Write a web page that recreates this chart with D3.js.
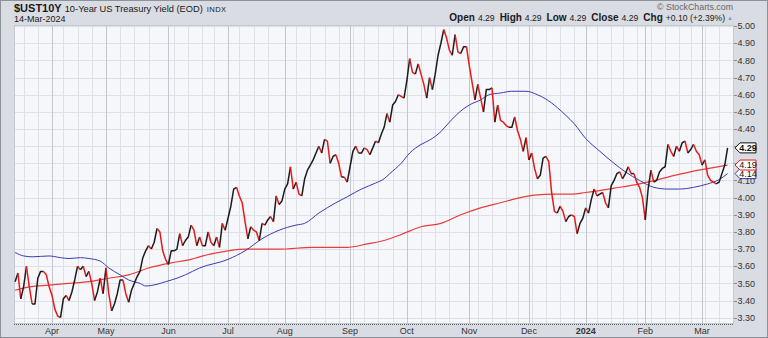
<!DOCTYPE html>
<html>
<head>
<meta charset="utf-8">
<script src="https://cdn.jsdelivr.net/npm/d3@7"></script>
<style>
  html, body { margin: 0; padding: 0; background: #ffffff; }
  svg { display: block; font-family: "Liberation Sans", Arial, Helvetica, sans-serif; }
</style>
</head>
<body>
<svg id="chart" width="768" height="338"></svg>
<script>
// ---- Data: 10-Year US Treasury Yield, daily closes ----
const firstDay = "2023-03-15";
const lastDay = "2024-03-14";
const marketHolidays = ["2023-04-07", "2023-05-29", "2023-06-19", "2023-07-04", "2023-09-04",
  "2023-11-23", "2023-12-25", "2024-01-01", "2024-01-15", "2024-02-19"];

const closesMar23 = [3.51, 3.56, 3.41, 3.48, 3.60, 3.48, 3.38, 3.38, 3.53, 3.57, 3.57, 3.55, 3.48];
const closesApr23 = [3.43, 3.35, 3.31, 3.30, 3.41, 3.43, 3.40, 3.45, 3.52, 3.60, 3.58, 3.60, 3.54, 3.57, 3.50, 3.40, 3.45, 3.53, 3.44];
const closesMay23 = [3.59, 3.44, 3.34, 3.38, 3.44, 3.52, 3.52, 3.44, 3.39, 3.46, 3.50, 3.54, 3.57, 3.65, 3.69, 3.72, 3.70, 3.74, 3.82, 3.80, 3.69, 3.64];
const closesJun23 = [3.61, 3.69, 3.69, 3.70, 3.79, 3.72, 3.75, 3.77, 3.84, 3.81, 3.72, 3.77, 3.72, 3.72, 3.80, 3.74, 3.72, 3.77, 3.71, 3.85, 3.81];
const closesJul23 = [3.88, 3.95, 4.05, 4.06, 4.01, 3.97, 3.86, 3.76, 3.83, 3.81, 3.80, 3.75, 3.85, 3.84, 3.87, 3.89, 3.86, 4.01, 3.96, 3.98];
const closesAug23 = [4.05, 4.08, 4.18, 4.05, 4.09, 4.02, 4.01, 4.11, 4.16, 4.19, 4.22, 4.26, 4.30, 4.26, 4.34, 4.33, 4.20, 4.24, 4.25, 4.20, 4.12, 4.12, 4.09];
const closesSep23 = [4.18, 4.27, 4.30, 4.26, 4.26, 4.29, 4.28, 4.25, 4.29, 4.33, 4.32, 4.37, 4.41, 4.49, 4.44, 4.54, 4.56, 4.60, 4.59, 4.58];
const closesOct23 = [4.68, 4.81, 4.73, 4.72, 4.78, 4.72, 4.66, 4.58, 4.70, 4.63, 4.72, 4.83, 4.90, 4.98, 4.93, 4.86, 4.83, 4.95, 4.85, 4.84, 4.88, 4.88];
const closesNov23 = [4.77, 4.67, 4.57, 4.66, 4.58, 4.50, 4.63, 4.63, 4.64, 4.44, 4.54, 4.45, 4.44, 4.42, 4.41, 4.41, 4.47, 4.39, 4.34, 4.27, 4.35];
const closesDec23 = [4.22, 4.26, 4.17, 4.11, 4.13, 4.23, 4.24, 4.21, 4.03, 3.92, 3.91, 3.95, 3.92, 3.86, 3.89, 3.90, 3.89, 3.79, 3.85, 3.88];
const closesJan24 = [3.94, 3.91, 3.99, 4.05, 4.01, 4.02, 4.03, 3.97, 3.94, 4.07, 4.10, 4.14, 4.15, 4.11, 4.14, 4.18, 4.14, 4.14, 4.09, 4.06, 4.00];
const closesFeb24 = [3.87, 4.05, 4.16, 4.09, 4.10, 4.15, 4.17, 4.18, 4.31, 4.27, 4.24, 4.30, 4.27, 4.32, 4.33, 4.26, 4.28, 4.31, 4.27, 4.25];
const closesMar24 = [4.19, 4.22, 4.13, 4.10, 4.09, 4.08, 4.09, 4.14, 4.19, 4.29];

// 50-day simple moving average (trading-day index, value)
const sma50At = [0, 3, 6, 12, 16, 19, 23, 26, 30, 33, 37, 40, 44, 46, 50, 53, 57, 60, 65, 75, 81, 87, 93, 99, 102,
  107, 113, 117, 122, 127, 130, 132, 136, 139, 143, 146, 150, 153, 157, 160, 164, 167, 171, 175, 180, 184, 187,
  191, 194, 197, 201, 206, 211, 215, 220, 225, 230, 234, 239, 244, 248, 251];
const sma50 = [3.68, 3.66, 3.655, 3.66, 3.65, 3.645, 3.65, 3.645, 3.63, 3.59, 3.55, 3.52, 3.50, 3.485, 3.495, 3.51,
  3.53, 3.55, 3.59, 3.64, 3.69, 3.76, 3.81, 3.84, 3.85, 3.91, 3.97, 4.005, 4.05, 4.085, 4.11, 4.14, 4.20, 4.26,
  4.31, 4.335, 4.385, 4.44, 4.505, 4.54, 4.57, 4.60, 4.61, 4.62, 4.62, 4.60, 4.575, 4.525, 4.48, 4.43, 4.345,
  4.27, 4.20, 4.15, 4.10, 4.06, 4.05, 4.05, 4.06, 4.08, 4.105, 4.14];

// 200-day simple moving average (trading-day index, value)
const sma200At = [0, 5, 12, 19, 26, 33, 40, 47, 55, 62, 65, 75, 81, 93, 105, 117, 124, 130, 136, 143, 150, 157,
  164, 171, 178, 183, 190, 196, 201, 211, 220, 230, 239, 246, 251];
const sma200 = [3.46, 3.48, 3.49, 3.50, 3.51, 3.53, 3.55, 3.59, 3.62, 3.64, 3.655, 3.69, 3.70, 3.70, 3.71, 3.71,
  3.73, 3.75, 3.785, 3.83, 3.85, 3.90, 3.94, 3.97, 4.00, 4.015, 4.02, 4.02, 4.03, 4.055, 4.08, 4.12, 4.155,
  4.175, 4.19];

const yTicks = [3.30, 3.40, 3.50, 3.60, 3.70, 3.80, 3.90, 4.00, 4.10, 4.20, 4.30, 4.40, 4.50, 4.60, 4.70, 4.80, 4.90, 5.00];
const monthLabels = ["Apr", "May", "Jun", "Jul", "Aug", "Sep", "Oct", "Nov", "Dec", "2024", "Feb", "Mar"];

const quoteFields = ["Open", "High", "Low", "Close", "Chg"];
const quoteValues = ["4.29", "4.29", "4.29", "4.29", "+0.10 (+2.39%)"];
const lastTags = [
  { value: 4.14, color: "#3434b4", bold: false },
  { value: 4.19, color: "#e01818", bold: false },
  { value: 4.29, color: "#111111", bold: true }
];

// ---- Layout ----
const W = 768, H = 338;
const plot = { left: 14, right: 734, top: 25, bottom: 324 };

const closes = [].concat(closesMar23, closesApr23, closesMay23, closesJun23, closesJul23, closesAug23,
  closesSep23, closesOct23, closesNov23, closesDec23, closesJan24, closesFeb24, closesMar24);

const fmt = d3.utcFormat("%Y-%m-%d");
const days = d3.utcDay.range(new Date(firstDay + "T00:00:00Z"), d3.utcDay.offset(new Date(lastDay + "T00:00:00Z"), 1))
  .filter(d => d.getUTCDay() % 6 !== 0 && !marketHolidays.includes(fmt(d)));

const x = d3.scaleLinear().domain([0, closes.length - 1]).range([15.1, 727.6]);
const y = d3.scaleLinear().domain([3.30, 5.00]).range([317.7, 26.1]);

const svg = d3.select("#chart");

// outer panel
svg.append("rect").attr("x", 0.5).attr("y", 0.5).attr("width", W - 1).attr("height", H - 1)
  .attr("fill", "#d9dce2").attr("stroke", "#8e929a");

// plot background
svg.append("rect").attr("x", plot.left).attr("y", plot.top)
  .attr("width", plot.right - plot.left).attr("height", plot.bottom - plot.top)
  .attr("fill", "#f6f7fa");

// month starts and week starts
const monthStarts = [];
const weekStarts = [];
days.forEach((d, i) => {
  if (i === 0) return;
  const p = days[i - 1];
  if (d.getUTCMonth() !== p.getUTCMonth()) monthStarts.push(i);
  if (d.getUTCDay() < p.getUTCDay() || (d - p) > 3 * 864e5) weekStarts.push(i);
});
const weekLines = weekStarts.filter(i => !monthStarts.some(m => m - i >= 0 && m - i <= 2));

const grid = svg.append("g");
grid.selectAll(".hg").data(yTicks).join("line")
  .attr("x1", plot.left).attr("x2", plot.right)
  .attr("y1", d => Math.round(y(d)) + 0.5).attr("y2", d => Math.round(y(d)) + 0.5)
  .attr("stroke", "#dde0e6");
grid.selectAll(".wg").data(weekLines).join("line")
  .attr("x1", d => Math.round(x(d)) + 0.5).attr("x2", d => Math.round(x(d)) + 0.5)
  .attr("y1", plot.top).attr("y2", plot.bottom)
  .attr("stroke", "#dde0e6");
grid.selectAll(".mg").data(monthStarts).join("line")
  .attr("x1", d => Math.round(x(d)) + 0.5).attr("x2", d => Math.round(x(d)) + 0.5)
  .attr("y1", plot.top).attr("y2", plot.bottom)
  .attr("stroke", "#c3c7cf");

// plot frame
svg.append("rect").attr("x", plot.left + 0.5).attr("y", plot.top + 0.5)
  .attr("width", plot.right - plot.left - 1).attr("height", plot.bottom - plot.top - 1)
  .attr("fill", "none").attr("stroke", "#c4c8cf");
svg.append("line").attr("x1", plot.left).attr("x2", plot.right)
  .attr("y1", plot.bottom + 0.5).attr("y2", plot.bottom + 0.5)
  .attr("stroke", "#5a5e66").attr("stroke-dasharray", "1,1");

// clip
svg.append("clipPath").attr("id", "plotClip").append("rect")
  .attr("x", plot.left).attr("y", plot.top)
  .attr("width", plot.right - plot.left).attr("height", plot.bottom - plot.top);
const marks = svg.append("g").attr("clip-path", "url(#plotClip)");

// moving averages
const maLine = d3.line().x(d => x(d[0])).y(d => y(d[1])).curve(d3.curveMonotoneX);
marks.append("path").datum(sma200At.map((i, k) => [i, sma200[k]]))
  .attr("d", maLine).attr("fill", "none").attr("stroke", "#e83c3c").attr("stroke-width", 1.2);
marks.append("path").datum(sma50At.map((i, k) => [i, sma50[k]]))
  .attr("d", maLine).attr("fill", "none").attr("stroke", "#3b3bb0").attr("stroke-width", 1);

// price line: rising segments black, falling segments red
const runs = [];
for (let i = 1; i < closes.length; i++) {
  const up = closes[i] >= closes[i - 1];
  const last = runs[runs.length - 1];
  if (last && last.up === up) last.pts.push(i);
  else runs.push({ up, pts: [i - 1, i] });
}
const priceLine = d3.line().x(i => x(i)).y(i => y(closes[i]));
marks.selectAll(".run").data(runs).join("path")
  .attr("d", r => priceLine(r.pts))
  .attr("fill", "none")
  .attr("stroke", r => r.up ? "#1c1c1c" : "#e41b1b")
  .attr("stroke-width", 1.5)
  .attr("stroke-linejoin", "round");

// y axis (right); labels sitting under a last-value tag stay hidden by it
const yAxis = svg.append("g");
yAxis.selectAll("line").data(yTicks).join("line")
  .attr("x1", plot.right).attr("x2", plot.right + 3)
  .attr("y1", d => Math.round(y(d)) + 0.5).attr("y2", d => Math.round(y(d)) + 0.5)
  .attr("stroke", "#888c94");
const visibleTicks = yTicks.filter(v => !lastTags.some(t => Math.abs(y(t.value) - y(v)) < 5));
yAxis.selectAll("text").data(visibleTicks).join("text")
  .attr("x", plot.right + 3.5).attr("y", d => y(d) + 3.2)
  .attr("font-size", 9).attr("fill", "#333")
  .text(d => d.toFixed(2));

// last-value tags
const tagG = svg.append("g");
lastTags.forEach(t => {
  const cy = y(t.value);
  const g = tagG.append("g");
  g.append("path")
    .attr("d", `M${plot.right + 1},${cy} L${plot.right + 6},${cy - 5} L${plot.right + 22},${cy - 5} L${plot.right + 22},${cy + 5} L${plot.right + 6},${cy + 5} Z`)
    .attr("fill", "#ffffff").attr("stroke", t.color).attr("stroke-width", 1);
  g.append("text").attr("x", plot.right + 14).attr("y", cy + 3.2)
    .attr("text-anchor", "middle").attr("font-size", 9)
    .attr("font-weight", t.bold ? "bold" : "normal").attr("fill", "#111")
    .text(t.value.toFixed(2));
});

// x axis labels
svg.append("g").selectAll("text").data(monthStarts).join("text")
  .attr("x", d => x(d)).attr("y", 334)
  .attr("text-anchor", "middle").attr("font-size", 9).attr("fill", "#333")
  .attr("font-weight", (d, k) => monthLabels[k] === "2024" ? "bold" : "normal")
  .text((d, k) => monthLabels[k]);

// header
const title = svg.append("text").attr("x", 14).attr("y", 11.5).attr("fill", "#1a1a1a");
title.append("tspan").attr("font-size", 11).attr("font-weight", "bold").text("$UST10Y");
title.append("tspan").attr("font-size", 9.3).attr("dx", 3).text("10-Year US Treasury Yield (EOD)");
title.append("tspan").attr("font-size", 7.6).attr("dx", 4).attr("letter-spacing", 0.4).text("INDX");

svg.append("text").attr("x", 14).attr("y", 22).attr("font-size", 9).attr("fill", "#1a1a1a").text("14-Mar-2024");

svg.append("text").attr("x", 733).attr("y", 10).attr("text-anchor", "end")
  .attr("font-size", 8.8).attr("fill", "#666").text("\u00A9 StockCharts.com");

const quote = svg.append("text").attr("x", 725).attr("y", 21).attr("text-anchor", "end").attr("fill", "#1a1a1a");
quoteFields.forEach((f, k) => {
  quote.append("tspan").attr("font-size", 10).attr("font-weight", "bold").attr("dx", k === 0 ? 0 : 5).text(f);
  quote.append("tspan").attr("font-size", 8.6).attr("dx", 3).text(quoteValues[k]);
});
svg.append("text").attr("x", 727).attr("y", 20).attr("font-size", 6).attr("fill", "#8f9bb0").text("\u25B2");
</script>
</body>
</html>
